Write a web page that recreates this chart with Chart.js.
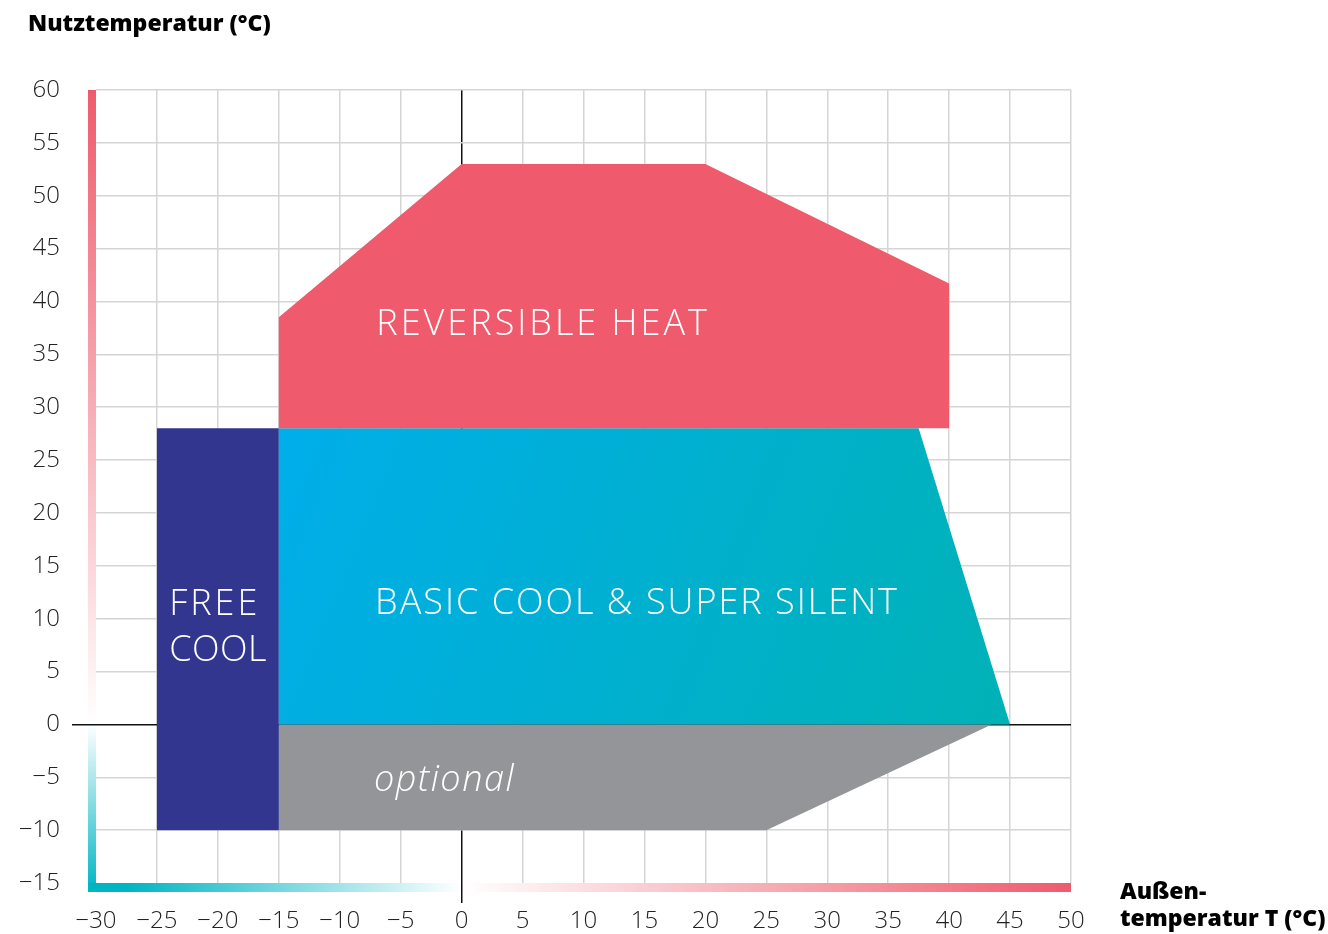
<!DOCTYPE html>
<html>
<head>
<meta charset="utf-8">
<script src="https://cdn.jsdelivr.net/npm/chart.js@4.4.1/dist/chart.umd.min.js"></script>
<style>
  html, body { margin: 0; padding: 0; background: #fff; }
  #wrap { width: 1328px; height: 934px; }
</style>
</head>
<body>
<div id="wrap"><canvas id="envelope"></canvas></div>
<script>
// ===== Data =====
const heatX = [-15, 0, 20, 40, 40, -15];
const heatY = [38.5, 53, 53, 41.7, 28, 28];
const coolX = [-15, 37.5, 45, -15];
const coolY = [28, 28, 0, 0];
const freeX = [-25, -15, -15, -25];
const freeY = [28, 28, -10, -10];
const optX = [-15, 43.5, 25, -15];
const optY = [0, 0, -10, -10];

const zoneNames = ['REVERSIBLE HEAT', 'BASIC COOL & SUPER SILENT', 'FREE', 'COOL', 'optional'];

const xMin = -30, xMax = 50, yMin = -15, yMax = 60, tickStep = 5;

const yTitle = 'Nutztemperatur (°C)';
const xTitle = ['Außen-', 'temperatur T (°C)'];

const FONT = "'Open Sans', 'DejaVu Sans', sans-serif";
const RED = '#ef5b6c';
const TEAL = '#00b5c3';

const toPoints = (xs, ys) => xs.map((x, i) => ({ x: x, y: ys[i] }));

function zone(xs, ys, color) {
  return {
    data: toPoints(xs, ys),
    showLine: true,
    fill: 'shape',
    backgroundColor: color,
    borderWidth: 0,
    borderColor: 'transparent',
    pointRadius: 0,
    pointHoverRadius: 0
  };
}

// blue gradient for the main cooling zone
function coolGradient(ctx) {
  const chart = ctx.chart;
  if (!chart.chartArea) return '#00b0d8';
  const xs = chart.scales.x, ys = chart.scales.y;
  const g = chart.ctx.createLinearGradient(
    xs.getPixelForValue(-15), ys.getPixelForValue(28),
    xs.getPixelForValue(45), ys.getPixelForValue(0));
  g.addColorStop(0, '#00aeea');
  g.addColorStop(1, '#00b2b6');
  return g;
}

// ===== Gradient axis bars drawn under the scales =====
const axisBars = {
  id: 'axisBars',
  beforeDraw(chart) {
    const c = chart.ctx, a = chart.chartArea;
    const xs = chart.scales.x, ys = chart.scales.y;
    const w = 8;
    c.save();
    // left bar: red at top, white at zero, teal at bottom
    const y0 = ys.getPixelForValue(0);
    const gl = c.createLinearGradient(0, a.top, 0, a.bottom + w);
    gl.addColorStop(0, RED);
    gl.addColorStop((y0 - a.top) / (a.bottom + w - a.top), '#ffffff');
    gl.addColorStop(1, TEAL);
    c.fillStyle = gl;
    c.fillRect(a.left - w, a.top, w, a.bottom + w + 1 - a.top);
    // bottom bar: teal at left, white at zero, red at right
    const x0 = xs.getPixelForValue(0);
    const gb = c.createLinearGradient(a.left - w, 0, a.right, 0);
    gb.addColorStop(0, TEAL);
    gb.addColorStop(0.04, TEAL);
    gb.addColorStop((x0 - a.left + w) / (a.right - a.left + w), '#ffffff');
    gb.addColorStop(1, RED);
    c.fillStyle = gb;
    c.fillRect(a.left - w, a.bottom, a.right - a.left + w, w + 1);
    c.restore();
  }
};

// ===== Zone labels and axis titles =====
const labels = {
  id: 'labels',
  afterDatasetsDraw(chart) {
    const c = chart.ctx;
    const xs = chart.scales.x, ys = chart.scales.y;
    const px = v => xs.getPixelForValue(v), py = v => ys.getPixelForValue(v);
    c.save();
    c.fillStyle = '#ffffff';
    c.textBaseline = 'middle';
    c.textAlign = 'left';
    c.font = '300 36px ' + FONT;
    c.letterSpacing = '3px';
    c.fillText(zoneNames[0], px(-7), py(37.8));
    c.letterSpacing = '2px';
    c.fillText(zoneNames[1], px(-7.1), py(11.4));
    c.letterSpacing = '3px';
    c.fillText(zoneNames[2], px(-24), py(11.3));
    c.letterSpacing = '0.5px';
    c.fillText(zoneNames[3], px(-24), py(6.95));
    c.letterSpacing = '1.5px';
    c.font = 'italic 300 36px ' + FONT;
    c.fillText(zoneNames[4], px(-7.2), py(-5.3));
    c.restore();
  },
  afterDraw(chart) {
    const c = chart.ctx;
    c.save();
    c.fillStyle = '#000';
    c.textAlign = 'left';
    c.textBaseline = 'middle';
    c.font = '800 23px ' + FONT;
    c.fillText(yTitle, 28, 24);
    c.fillText(xTitle[0], 1120, 892);
    c.fillText(xTitle[1], 1120, 919);
    c.restore();
  }
};

const minus = v => (v < 0 ? '\u2212' + Math.abs(v) : String(v));

document.addEventListener('DOMContentLoaded', () => {
  const ctx = document.getElementById('envelope').getContext('2d');
  new Chart(ctx, {
    type: 'scatter',
    data: {
      datasets: [
        zone(heatX, heatY, RED),
        zone(coolX, coolY, coolGradient),
        zone(freeX, freeY, '#33368f'),
        zone(optX, optY, '#939598')
      ]
    },
    options: {
      responsive: true,
      maintainAspectRatio: false,
      animation: false,
      layout: { padding: { top: 90, right: 257, left: 0, bottom: 0 } },
      plugins: {
        legend: { display: false },
        tooltip: { enabled: false }
      },
      scales: {
        x: {
          type: 'linear',
          min: xMin,
          max: xMax,
          afterFit: s => { s.height = 51; },
          border: { display: false },
          grid: {
            lineWidth: 1.5,
            color: ctx => {
              const v = ctx.tick && ctx.tick.value;
              if (v === 0) return '#111';
              if (v === xMin) return 'transparent';
              return '#d5d5d5';
            },
            tickColor: ctx => (ctx.tick && ctx.tick.value === 0 ? '#111' : 'transparent'),
            tickLength: 20
          },
          ticks: {
            stepSize: tickStep,
            padding: 4,
            maxRotation: 0,
            color: '#222',
            font: { family: FONT, size: 24, weight: '300' },
            callback: minus
          }
        },
        y: {
          type: 'linear',
          min: yMin,
          max: yMax,
          afterFit: s => { s.width = 96; },
          border: { display: false },
          grid: {
            lineWidth: 1.5,
            color: ctx => {
              const v = ctx.tick && ctx.tick.value;
              if (v === 0) return '#111';
              if (v === yMin) return 'transparent';
              return '#d5d5d5';
            },
            tickColor: ctx => (ctx.tick && ctx.tick.value === 0 ? '#111' : 'transparent'),
            tickLength: 24
          },
          ticks: {
            stepSize: tickStep,
            padding: 12,
            color: '#222',
            font: { family: FONT, size: 24, weight: '300' },
            callback: minus
          }
        }
      }
    },
    plugins: [axisBars, labels]
  });
});
</script>
</body>
</html>
